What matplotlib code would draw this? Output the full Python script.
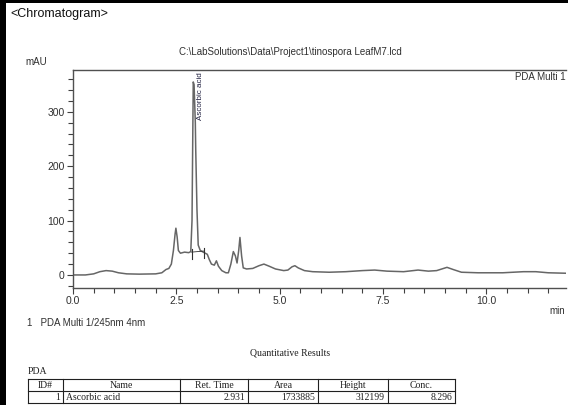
import matplotlib
matplotlib.use("Agg")
import matplotlib.pyplot as plt
from matplotlib.ticker import MultipleLocator, FixedLocator
from matplotlib.patches import Rectangle

# ---------------- data ----------------
time_min = [0.0, 0.3, 0.5, 0.65, 0.8, 0.95, 1.1, 1.3, 1.6, 2.0, 2.15, 2.25, 2.32, 2.38,
            2.43, 2.47, 2.49, 2.52, 2.55, 2.6, 2.7, 2.8, 2.85, 2.88, 2.91, 2.93, 2.96,
            2.97, 3.0, 3.03, 3.08, 3.15, 3.2, 3.25, 3.3, 3.35, 3.42, 3.47, 3.52, 3.6,
            3.7, 3.76, 3.82, 3.88, 3.93, 3.97, 4.01, 4.04, 4.08, 4.12, 4.2, 4.35, 4.5,
            4.62, 4.75, 4.9, 5.1, 5.2, 5.3, 5.37, 5.45, 5.6, 5.8, 6.2, 6.6, 7.0, 7.3,
            7.6, 8.0, 8.35, 8.6, 8.8, 9.05, 9.2, 9.4, 9.8, 10.4, 10.9, 11.2, 11.5, 12.0]
absorbance_mau = [0, 0, 2, 6, 8, 7, 4, 2, 1.5, 2, 4, 10, 12, 20,
                  45, 75, 86, 70, 45, 40, 42, 41, 43, 100, 355, 350, 280,
                  230, 120, 55, 45, 42, 40, 38, 28, 20, 18, 26, 16, 8,
                  4, 4, 20, 43, 35, 22, 45, 69, 35, 13, 11, 12, 17,
                  20, 16, 11, 8, 9, 15, 17, 13, 8, 6, 5, 6, 8, 9,
                  7, 6, 9, 7, 8, 14, 10, 5, 4, 4, 6, 6, 4, 3]

peak_name = "Ascorbic acid"
peak_label_time = 2.99
integration_marks_t = [2.87, 3.17]
integration_marks_v = [42, 44]

x_tick_labels = ["0.0", "2.5", "5.0", "7.5", "10.0"]
x_tick_values = [0.0, 2.5, 5.0, 7.5, 10.0]
y_tick_values = [0, 100, 200, 300]

table_headers = ["ID#", "Name", "Ret. Time", "Area", "Height", "Conc."]
table_row = ["1", "Ascorbic acid", "2.931", "1733885", "312199", "8.296"]

# ---------------- figure ----------------
W, H = 568, 405
fig = plt.figure(figsize=(W / 100, H / 100), dpi=100)
fig.patch.set_facecolor("white")

SANS = ["Liberation Sans", "DejaVu Sans"]
SERIF = ["Liberation Serif", "DejaVu Serif"]

ax_l, ax_r, ax_t, ax_b = 73, 566, 70, 288
ax = fig.add_axes([ax_l / W, 1 - ax_b / H, (ax_r - ax_l) / W, (ax_b - ax_t) / H])
ax.plot(time_min, absorbance_mau, color="#666666", lw=1.1)
ax.set_xlim(0, 11.93)
ax.set_ylim(-24, 377)

# integration marks
for t, v in zip(integration_marks_t, integration_marks_v):
    ax.plot([t, t], [v - 12, v + 6], color="#303030", lw=0.8)
ax.plot(integration_marks_t, integration_marks_v, color="#303030", lw=0.6)

ax.text(peak_label_time, 372, peak_name, rotation=90, ha="left", va="top",
        fontsize=5.8, family=SANS, color="#202040")

for s in ["left", "bottom", "top"]:
    ax.spines[s].set_color("#505050")
    ax.spines[s].set_linewidth(1.0)
ax.spines["right"].set_visible(False)

ax.xaxis.set_major_locator(FixedLocator(x_tick_values))
ax.set_xticklabels(x_tick_labels)
ax.xaxis.set_minor_locator(MultipleLocator(0.5))
ax.yaxis.set_major_locator(FixedLocator(y_tick_values))
ax.yaxis.set_minor_locator(MultipleLocator(20))
ax.tick_params(axis="both", which="major", length=4, width=0.8, color="#404040",
               labelsize=7.5, pad=2, labelcolor="#303030")
ax.tick_params(axis="both", which="minor", length=3.5, width=0.8, color="#404040")
for lab in ax.get_xticklabels() + ax.get_yticklabels():
    lab.set_family(SANS)

# ---------------- overlay for page text ----------------
ov = fig.add_axes([0, 0, 1, 1], facecolor="none")
ov.set_xlim(0, W)
ov.set_ylim(H, 0)
ov.axis("off")

# frame
ov.add_patch(Rectangle((0, 0), 6, H, color="black", lw=0))
ov.add_patch(Rectangle((0, 0), W, 2.5, color="black", lw=0))

ov.text(10, 14, "<Chromatogram>", fontsize=9, family=SANS, va="center", ha="left", color="#111111")
ov.text(290, 52, r"C:\LabSolutions\Data\Project1\tinospora LeafM7.lcd", fontsize=7,
        family=SANS, va="center", ha="center", color="#303030")
ov.text(36, 62, "mAU", fontsize=7, family=SANS, va="center", ha="center", color="#303030")
ov.text(515, 77, "PDA Multi 1", fontsize=7, family=SANS, va="center", ha="left", color="#303030")
ov.text(549, 311, "min", fontsize=7, family=SANS, va="center", ha="left", color="#303030")
ov.text(27, 323, "1   PDA Multi 1/245nm 4nm", fontsize=7, family=SANS, va="center", ha="left",
        color="#303030")

ov.text(290, 353, "Quantitative Results", fontsize=7, family=SERIF, va="center", ha="center",
        color="#202020")
ov.text(28, 372, "PDA", fontsize=7, family=SERIF, va="center", ha="left", color="#202020")

cols = [28, 63, 180, 248, 318, 388, 455]
rows = [379, 391, 403]
for x in cols:
    ov.plot([x, x], [rows[0], rows[-1]], color="#202020", lw=0.8)
for y in rows:
    ov.plot([cols[0], cols[-1]], [y, y], color="#202020", lw=0.8)
for i, h in enumerate(table_headers):
    ov.text((cols[i] + cols[i + 1]) / 2, (rows[0] + rows[1]) / 2, h, fontsize=7, family=SERIF,
            ha="center", va="center", color="#202020")
for i, v in enumerate(table_row):
    yc = (rows[1] + rows[2]) / 2
    if i == 1:
        ov.text(cols[i] + 3, yc, v, fontsize=7, family=SERIF, ha="left", va="center", color="#202020")
    else:
        ov.text(cols[i + 1] - 3, yc, v, fontsize=7, family=SERIF, ha="right", va="center",
                color="#202020")

fig.savefig("out.png", dpi=100)
